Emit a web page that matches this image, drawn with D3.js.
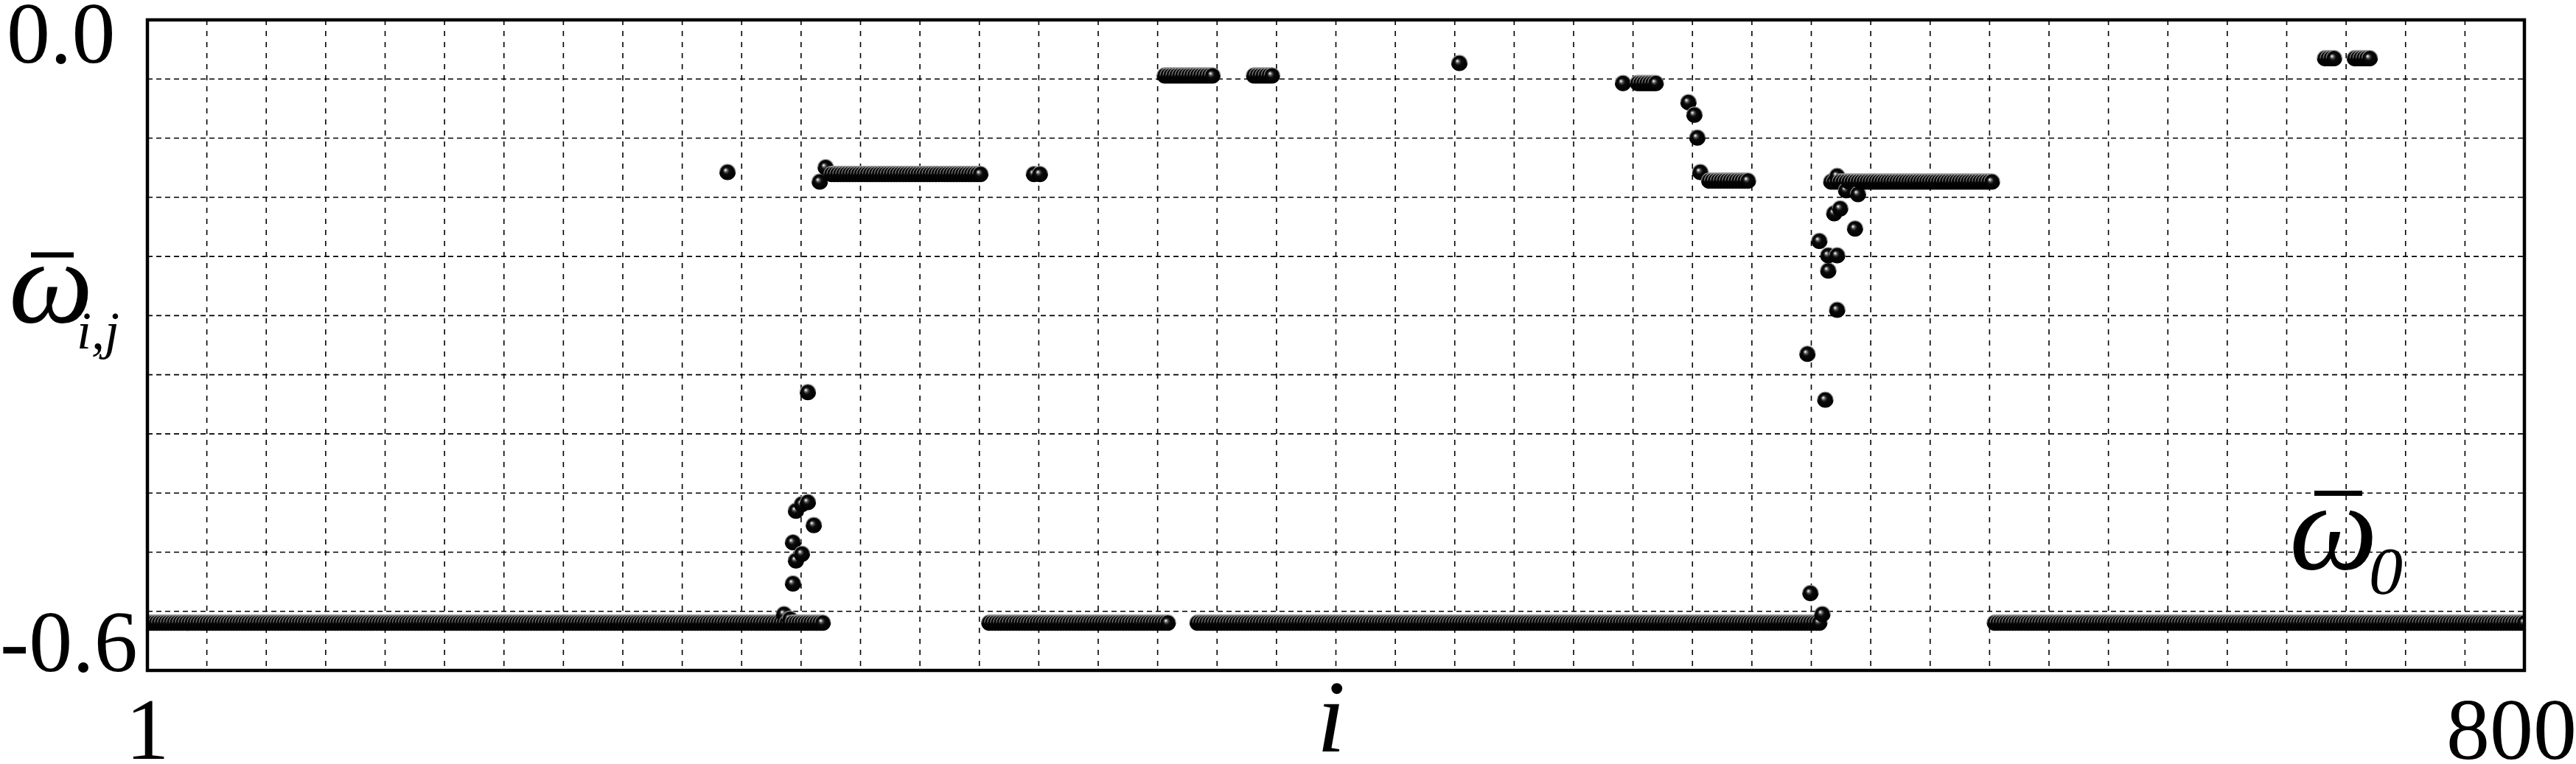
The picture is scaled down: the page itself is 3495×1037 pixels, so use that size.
<!DOCTYPE html>
<html>
<head>
<meta charset="utf-8">
<script src="https://cdnjs.cloudflare.com/ajax/libs/d3/7.8.5/d3.min.js"></script>
<style>
  body { margin: 0; background: #fff; }
  svg { display: block; }
</style>
</head>
<body>
<svg id="chart"></svg>
<script>
// flat runs of oscillators: [first i, last i, mean frequency]
var runs = [
  [1, 228, -0.600],
  [231, 281, -0.131],
  [284, 344, -0.600],
  [343, 359, -0.028],
  [354, 563, -0.600],
  [373, 379, -0.028],
  [502, 508, -0.036],
  [526, 539, -0.138],
  [567, 621, -0.139],
  [622, 800, -0.600],
  [733, 736, -0.010],
  [743, 748, -0.010]
];

// single oscillators off the runs: [i, mean frequency]
var points = [
  [196, -0.129], [215, -0.591], [217, -0.596], [218, -0.559], [218, -0.516],
  [219, -0.535], [219, -0.483], [221, -0.528], [221, -0.476], [223, -0.474],
  [223, -0.359], [225, -0.498], [227, -0.139], [229, -0.124], [299, -0.131],
  [301, -0.131], [442, -0.015], [497, -0.036], [519, -0.056], [521, -0.069],
  [522, -0.093], [523, -0.129], [559, -0.319], [560, -0.569], [563, -0.201],
  [564, -0.591], [565, -0.367], [566, -0.232], [566, -0.216], [568, -0.172],
  [569, -0.273], [569, -0.216], [569, -0.133], [570, -0.167], [572, -0.148],
  [575, -0.188], [576, -0.152]
];

var xTickLabels = ["1", "800"];
var yTickLabels = ["0.0", "-0.6"];

var width = 3495, height = 1037;
var margin = { top: 27, right: 70, bottom: 127, left: 200 };
var plotW = width - margin.left - margin.right,
    plotH = height - margin.top - margin.bottom;
var serif = "'Liberation Serif', Tinos, 'Times New Roman', Times, serif";

var data = [];
runs.forEach(function(r) {
  for (var i = r[0]; i <= r[1]; i++) data.push({ i: i, w: r[2] });
});
points.forEach(function(p) { data.push({ i: p[0], w: p[1] }); });
data.sort(function(a, b) { return a.i - b.i; });

var xScale = d3.scaleLinear().domain([1, 800]).range([margin.left, margin.left + plotW]);
var yScale = d3.scaleLinear().domain([-0.65, 0.03]).range([margin.top + plotH, margin.top]);

// the grid is 40 x 11 cells over the frame
var gridX = d3.scaleLinear().domain([0, 40]).range(xScale.range());
var gridY = d3.scaleLinear().domain([0, 11]).range(yScale.range());

var svg = d3.select("#chart")
  .attr("width", width)
  .attr("height", height)
  .attr("font-family", serif);

svg.append("rect")
  .attr("width", width)
  .attr("height", height)
  .attr("fill", "#fff");

var defs = svg.append("defs");

var ball = defs.append("radialGradient")
  .attr("id", "ball")
  .attr("cx", 0.5).attr("cy", 0.5).attr("r", 0.5)
  .attr("fx", 0.35).attr("fy", 0.36);
[[0, "#ffffff"], [0.08, "#d0d0d0"], [0.18, "#808080"], [0.3, "#3a3a3a"], [0.46, "#0a0a0a"], [1, "#000000"]]
  .forEach(function(s) {
    ball.append("stop").attr("offset", s[0]).attr("stop-color", s[1]);
  });

// grey rim on the upper half, gives the striped look where balls overlap
var rim = defs.append("linearGradient")
  .attr("id", "rim")
  .attr("x1", 0).attr("y1", 0).attr("x2", 0).attr("y2", 1);
[[0, "#9a9a9a"], [0.45, "#707070"], [0.58, "#000000"], [1, "#000000"]]
  .forEach(function(s) {
    rim.append("stop").attr("offset", s[0]).attr("stop-color", s[1]);
  });

defs.append("clipPath")
  .attr("id", "plotClip")
  .append("rect")
  .attr("x", margin.left)
  .attr("y", margin.top)
  .attr("width", plotW)
  .attr("height", plotH);

// dashed grid
svg.append("g")
  .selectAll("line")
  .data(d3.range(1, 40))
  .enter()
  .append("line")
  .attr("x1", function(d) { return gridX(d); })
  .attr("x2", function(d) { return gridX(d); })
  .attr("y1", margin.top)
  .attr("y2", margin.top + plotH)
  .attr("stroke", "#000")
  .attr("stroke-width", 1.6)
  .attr("stroke-dasharray", "7,8");

svg.append("g")
  .selectAll("line")
  .data(d3.range(1, 11))
  .enter()
  .append("line")
  .attr("x1", margin.left)
  .attr("x2", margin.left + plotW)
  .attr("y1", function(d) { return gridY(d); })
  .attr("y2", function(d) { return gridY(d); })
  .attr("stroke", "#000")
  .attr("stroke-width", 1.6)
  .attr("stroke-dasharray", "7,5");

// shaded balls
svg.append("g")
  .attr("clip-path", "url(#plotClip)")
  .selectAll("circle")
  .data(data)
  .enter()
  .append("circle")
  .attr("cx", function(d) { return xScale(d.i); })
  .attr("cy", function(d) { return yScale(d.w); })
  .attr("r", 10.5)
  .attr("fill", "url(#ball)")
  .attr("stroke", "url(#rim)")
  .attr("stroke-width", 1.2);

// frame
svg.append("rect")
  .attr("x", margin.left)
  .attr("y", margin.top)
  .attr("width", plotW)
  .attr("height", plotH)
  .attr("fill", "none")
  .attr("stroke", "#000")
  .attr("stroke-width", 4.5);

// tick labels
svg.append("text")
  .attr("x", 9).attr("y", 85)
  .attr("font-size", 118)
  .text(yTickLabels[0]);

svg.append("text")
  .attr("x", 0).attr("y", 911)
  .attr("font-size", 118)
  .text(yTickLabels[1]);

svg.append("text")
  .attr("x", xScale(1)).attr("y", 1030)
  .attr("text-anchor", "middle")
  .attr("font-size", 118)
  .text(xTickLabels[0]);

svg.append("text")
  .attr("x", 3496).attr("y", 1030)
  .attr("text-anchor", "end")
  .attr("font-size", 118)
  .text(xTickLabels[1]);

// axis titles
svg.append("text")
  .attr("x", 1806).attr("y", 1020)
  .attr("text-anchor", "middle")
  .attr("font-size", 140)
  .attr("font-style", "italic")
  .text("i");

function omegaBar(g, x, y, size, barX1, barX2, barY, sub, subX, subY, subSize) {
  g.append("text")
    .attr("x", x).attr("y", y)
    .attr("font-size", size)
    .attr("font-style", "italic")
    .text("ω");
  g.append("line")
    .attr("x1", barX1).attr("x2", barX2)
    .attr("y1", barY).attr("y2", barY)
    .attr("stroke", "#000")
    .attr("stroke-width", 7);
  g.append("text")
    .attr("x", subX).attr("y", subY)
    .attr("font-size", subSize)
    .attr("font-style", "italic")
    .text(sub);
}

omegaBar(svg.append("g"), 12, 437, 162, 42, 100, 346, "i,j", 104, 473, 72);
omegaBar(svg.append("g"), 3106, 772, 170, 3140, 3205, 669.5, "0", 3214, 806, 92);
</script>
</body>
</html>
